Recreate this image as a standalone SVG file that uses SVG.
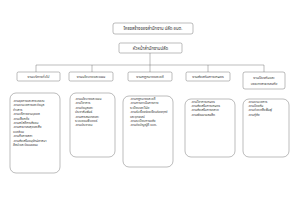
<svg xmlns="http://www.w3.org/2000/svg" width="300" height="212" viewBox="0 0 300 212">
<style>
.b{fill:#fff;stroke:#555;stroke-width:0.4}
.c{fill:none;stroke:#555;stroke-width:0.4}
text{font-family:"Noto Sans Thai","Noto Sans","DejaVu Sans",sans-serif;fill:#333}
.t1{font-size:4.3px}
.t2{font-size:3.6px}
.t3{font-size:3.2px}
</style>
<rect width="300" height="212" fill="#fff"/>
<g id="title"><rect class="b" x="113" y="23" width="80" height="11" rx="2"/><text class="t1" x="153" y="30" text-anchor="middle">โครงสร้างของสำนักงาน ปลัด อบต.</text></g>
<g id="head"><rect class="b" x="119" y="43" width="63" height="10" rx="1.5"/><text class="t1" x="150.5" y="49.5" text-anchor="middle">หัวหน้าสำนักงานปลัด</text></g>
<g id="connectors">
<path class="c" d="M150 53V65M36 65H264M36 65V72M92 65V72M150 65V72M208 65V72M264 65V72"/>
</g>
<g id="d1"><rect class="b" x="17" y="72" width="43" height="9" rx="1.5"/><text class="t2" x="38.5" y="77.8" text-anchor="middle">งานบริหารทั่วไป</text></g>
<g id="d2"><rect class="b" x="69" y="72" width="44" height="9" rx="1.5"/><text class="t2" x="91" y="77.8" text-anchor="middle">งานนโยบายและแผน</text></g>
<g id="d3"><rect class="b" x="128" y="72" width="44" height="9" rx="1.5"/><text class="t2" x="150" y="77.8" text-anchor="middle">งานกฎหมายและคดี</text></g>
<g id="d4"><rect class="b" x="186" y="72" width="44" height="9" rx="1.5"/><text class="t2" x="208" y="77.8" text-anchor="middle">งานส่งเสริมการเกษตร</text></g>
<g id="d5"><rect class="b" x="243" y="72" width="42" height="17" rx="2"/><text class="t2" x="264" y="78.5" text-anchor="middle">งานป้องกันและ</text><text class="t2" x="264" y="85" text-anchor="middle">บรรเทาสาธารณภัย</text></g>
<g id="l1"><rect class="b" x="10" y="93" width="50" height="80" rx="6"/>
<text class="t3" x="13" y="102"><tspan x="13">-งานธุรการและสารบรรณ</tspan><tspan x="13" dy="4.4">-งานอำนวยการและข้อมูล</tspan><tspan x="13" dy="4.4">ข่าวสาร</tspan><tspan x="13" dy="4.4">-งานบริหารงานบุคคล</tspan><tspan x="13" dy="4.4">-งานเลือกตั้ง</tspan><tspan x="13" dy="4.4">-งานสวัสดิการสังคม</tspan><tspan x="13" dy="4.4">-งานสาธารณสุขและสิ่ง</tspan><tspan x="13" dy="4.4">แวดล้อม</tspan><tspan x="13" dy="4.4">-งานกิจการสภา</tspan><tspan x="13" dy="4.4">-งานส่งเสริมอนุรักษ์ศาสนา</tspan><tspan x="13" dy="4.4">ศิลปะและวัฒนธรรม</tspan></text></g>
<g id="l2"><rect class="b" x="70" y="93" width="45" height="64" rx="6"/>
<text class="t3" x="75" y="100"><tspan x="75">-งานนโยบายและแผน</tspan><tspan x="75" dy="4.4">-งานวิชาการ</tspan><tspan x="75" dy="4.4">-งานข้อมูลและ</tspan><tspan x="75" dy="4.4">ประชาสัมพันธ์</tspan><tspan x="75" dy="4.4">-งานสารสนเทศและ</tspan><tspan x="75" dy="4.4">ระบบคอมพิวเตอร์</tspan><tspan x="75" dy="4.4">-งานประชาคม</tspan></text></g>
<g id="l3"><rect class="b" x="123" y="96" width="50" height="71" rx="6"/>
<text class="t3" x="130" y="100"><tspan x="130">-งานกฎหมายและคดี</tspan><tspan x="130" dy="4.4">-งานการดำเนินการทาง</tspan><tspan x="130" dy="4.4">ระเบียบและวินัย</tspan><tspan x="130" dy="4.4">-งานรับเรื่องร้องเรียนร้องทุกข์</tspan><tspan x="130" dy="4.4">และอุทธรณ์</tspan><tspan x="130" dy="4.4">-งานระเบียบการคลัง</tspan><tspan x="130" dy="4.4">-งานข้อบัญญัติ อบต.</tspan></text></g>
<g id="l4"><rect class="b" x="185" y="99" width="50" height="58" rx="6"/>
<text class="t3" x="191" y="103"><tspan x="191">-งานวิชาการเกษตร</tspan><tspan x="191" dy="4.2">-งานส่งเสริมการเกษตร</tspan><tspan x="191" dy="4.2">-งานส่งเสริมการตลาด</tspan><tspan x="191" dy="4.2">-งานพัฒนาผลผลิต</tspan></text></g>
<g id="l5"><rect class="b" x="243" y="99" width="46" height="58" rx="6"/>
<text class="t3" x="248" y="103"><tspan x="248">-งานอำนวยการ</tspan><tspan x="248" dy="4.2">-งานป้องกัน</tspan><tspan x="248" dy="4.2">-งานช่วยเหลือฟื้นฟู</tspan><tspan x="248" dy="4.2">-งานกู้ภัย</tspan></text></g>
</svg>
